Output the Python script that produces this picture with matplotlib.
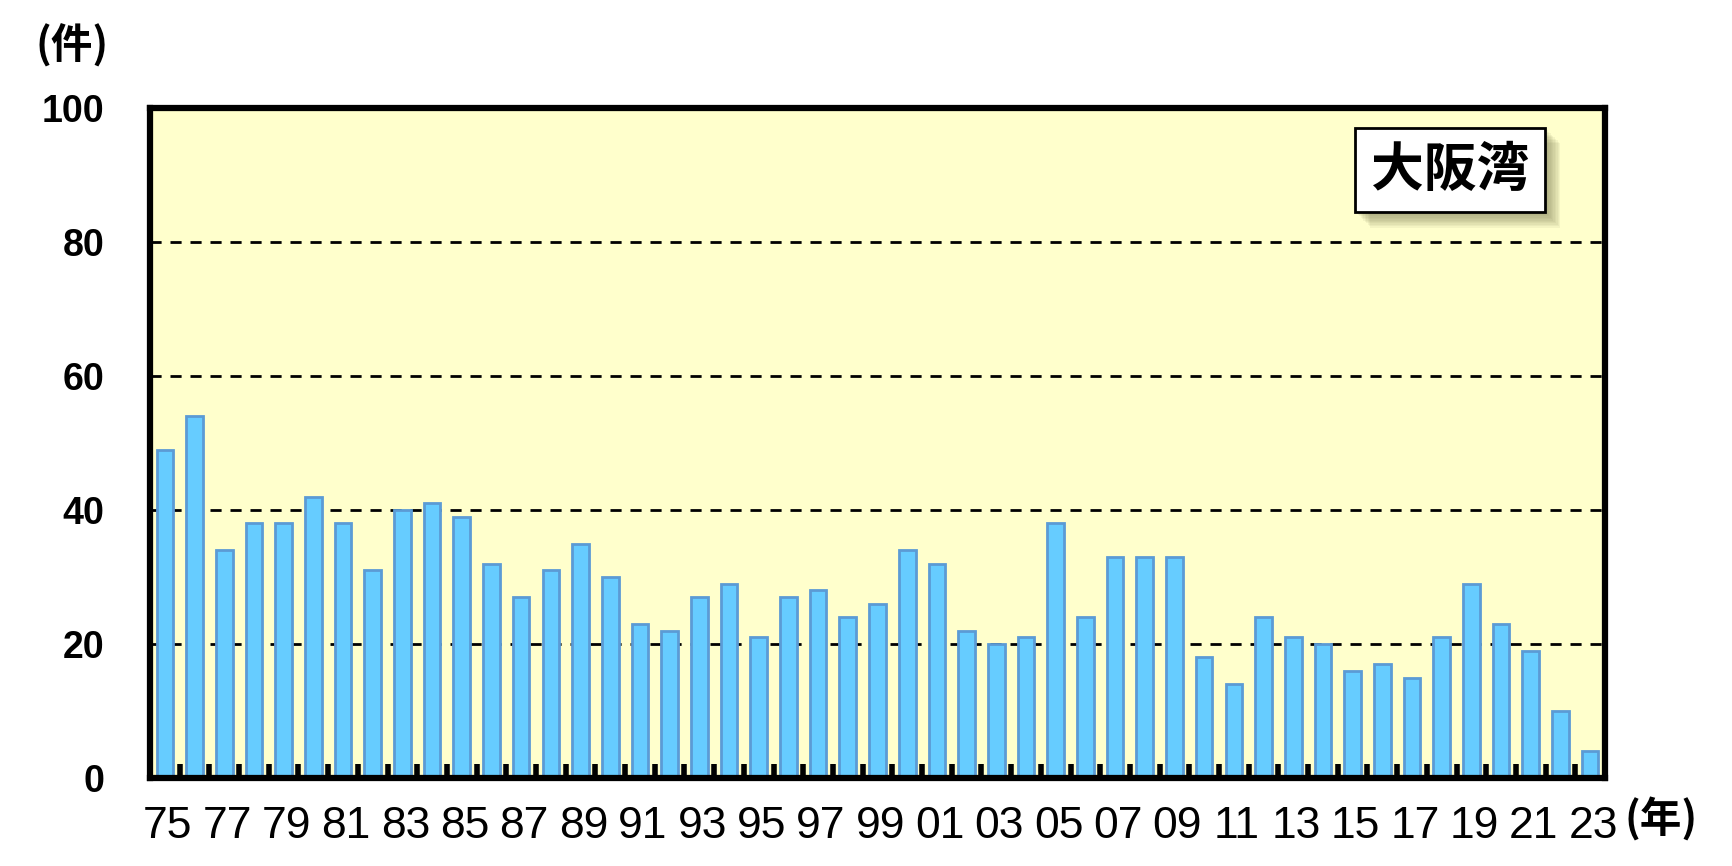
import matplotlib
matplotlib.use("Agg")
import matplotlib.pyplot as plt
import matplotlib.patheffects as pe
import numpy as np

plt.rcParams['font.family'] = ['Liberation Sans', 'Noto Sans CJK JP', 'DejaVu Sans']

years = list(range(1975, 2024))
counts = [49, 54, 34, 38, 38, 42, 38, 31, 40, 41, 39, 32, 27, 31, 35, 30,
          23, 22, 27, 29, 21, 27, 28, 24, 26, 34, 32, 22, 20, 21, 38, 24,
          33, 33, 33, 18, 14, 24, 21, 20, 16, 17, 15, 21, 29, 23, 19, 10, 4]
tick_labels = [f"{y % 100:02d}" for y in years]
title = "大阪湾"

fig = plt.figure(figsize=(17.33, 8.66), dpi=100)
ax = fig.add_axes([150/1733, 1 - 778/866, (1605-150)/1733, (778-108)/866])
ax.set_facecolor('#FFFFCC')

x = np.arange(len(years))
ax.bar(x, counts, width=0.56, color='#66CCFF', edgecolor='#5B9BD5', linewidth=2, zorder=3)

ax.set_xlim(-0.5, len(years) - 0.5)
ax.set_ylim(0, 100)
ax.set_yticks(range(0, 101, 20))
ax.set_yticklabels([str(v) for v in range(0, 101, 20)], fontsize=27, fontweight='bold')
ax.yaxis.grid(True, linestyle=(0, (4, 3.2)), color='black', linewidth=2, zorder=1)
ax.tick_params(axis='y', length=0, pad=33)

# ticks between bars, labels every other year
ax.set_xticks(x[:-1] + 0.5)
ax.set_xticklabels([])
ax.tick_params(axis='x', which='major', direction='in', length=10, width=4, color='black')
for i in range(0, len(years), 2):
    ax.text(x[i] + 0.1, -0.042, tick_labels[i], transform=ax.get_xaxis_transform(),
            ha='center', va='top', fontsize=32)

for s in ax.spines.values():
    s.set_linewidth(4.5)
    s.set_zorder(5)

fig.text(72/1733, 1 - 46/866, "(件)", fontsize=30, fontweight='bold',
         ha='center', va='center', family=['Noto Sans CJK JP'])
fig.text(1661/1733, 1 - 820/866, "(年)", fontsize=30, fontweight='bold',
         ha='center', va='center', family=['Noto Sans CJK JP'])

shadow = [pe.SimplePatchShadow(offset=(d, -d), shadow_rgbFace='#8a8a60', alpha=0.09)
          for d in range(2, 12)] + [pe.Normal()]
ax.text(0.8935, 0.9075, title, transform=ax.transAxes, fontsize=38, fontweight='bold',
        ha='center', va='center', family=['Noto Sans CJK JP'], zorder=6,
        bbox=dict(boxstyle='square,pad=0.3', facecolor='white', edgecolor='black', linewidth=2,
                  path_effects=shadow))

fig.savefig("out.png", dpi=100)
